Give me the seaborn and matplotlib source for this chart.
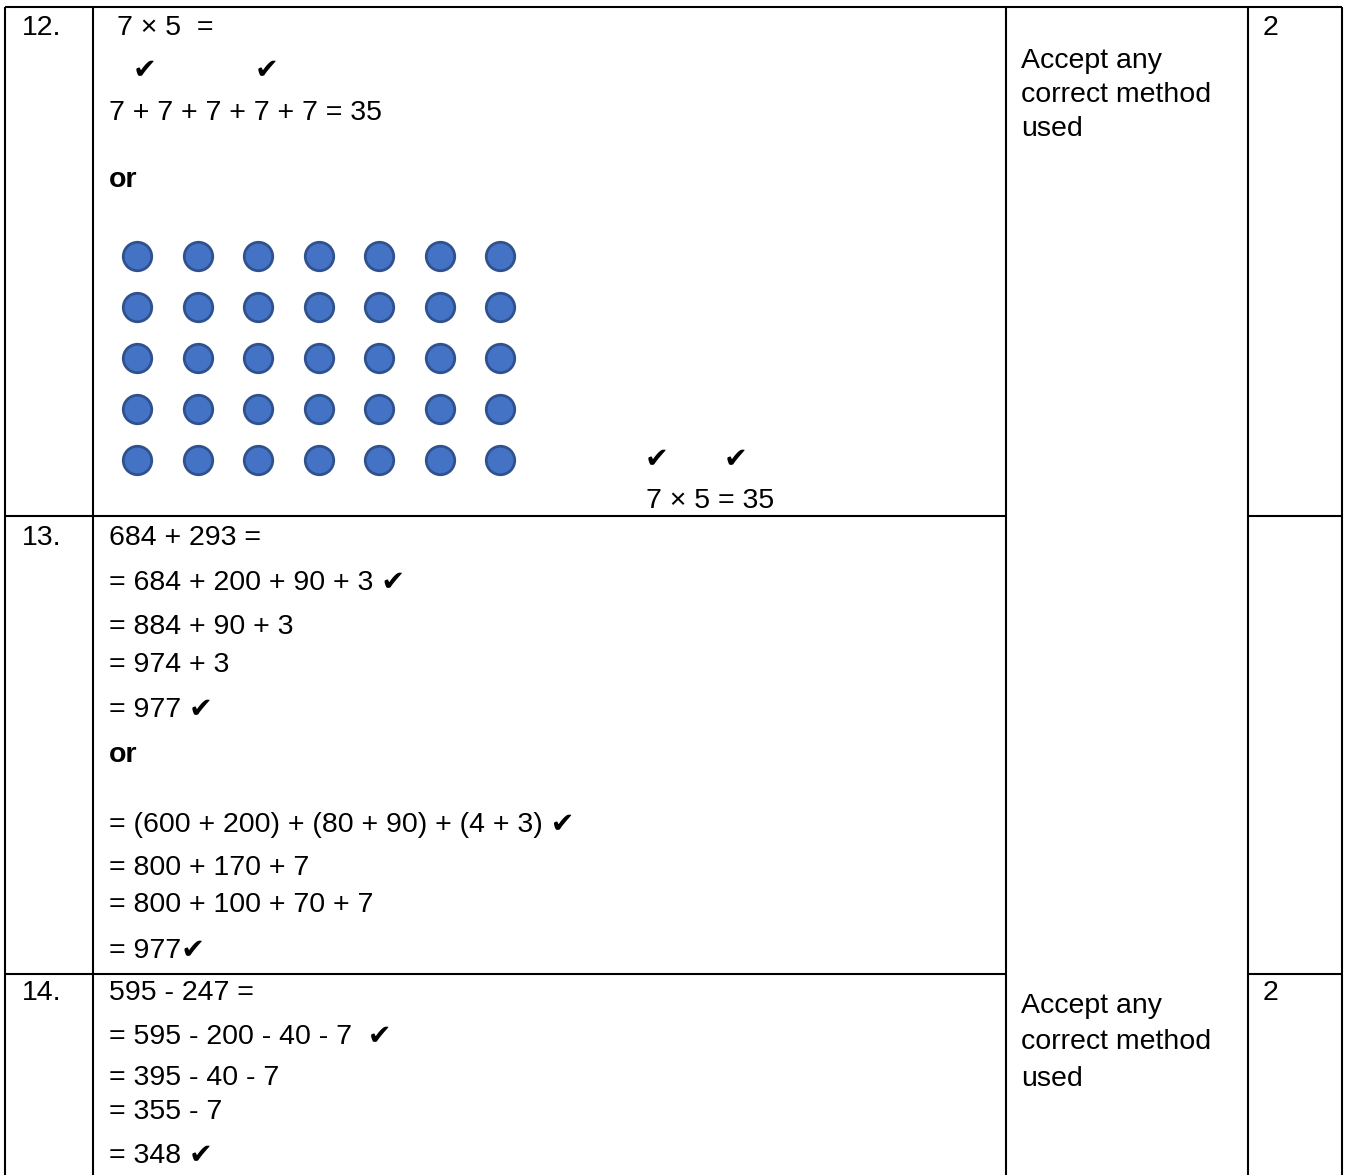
"""
Marking scheme table: questions 12-14 (multiplication / addition / subtraction)
"""
import itertools
import pandas as pd
import matplotlib
matplotlib.use("Agg")
import matplotlib.pyplot as plt
import seaborn as sns

sns.set_style("white")
plt.rcParams["font.family"] = ["Liberation Sans", "DejaVu Sans"]

W, H = 1349, 1175
FS = 20.5
CHECK = "\u2714"

# ---------- content ----------
question_numbers = ["12.", "13.", "14."]
q12_lines = ["7 \u00d7 5  =", "7 + 7 + 7 + 7 + 7 = 35"]
q12_tail = "7 \u00d7 5 = 35"
q13_lines = ["684 + 293 =", "= 684 + 200 + 90 + 3 " + CHECK, "= 884 + 90 + 3", "= 974 + 3",
             "= 977 " + CHECK, "= (600 + 200) + (80 + 90) + (4 + 3) " + CHECK,
             "= 800 + 170 + 7", "= 800 + 100 + 70 + 7", "= 977" + CHECK]
q14_lines = ["595 - 247 =", "= 595 - 200 - 40 - 7  " + CHECK, "= 395 - 40 - 7", "= 355 - 7",
             "= 348 " + CHECK]
guidance = ["Accept any", "correct method", "used"]
marks = ["2", "2"]

# dot array: 7 columns x 5 rows
dot_cols = [1, 2, 3, 4, 5, 6, 7]
dot_rows = [1, 2, 3, 4, 5]

# ---------- layout (pixels) ----------
col_x = [5, 93, 1006, 1248, 1342]
top_y = 7
row_sep = [516, 974]
q_base = [35, 545, 1000]
q12_base = [35, 120]
q12_x = [117, 109]
q12_checks = [(133, 78), (255, 78), (645, 467), (724, 467)]
or_base = [187, 762]
q13_base = [545, 590, 634, 672, 717, 832, 875, 912, 958]
q14_base = [1000, 1044, 1085, 1119, 1163]
guide_base = [[68, 102, 136], [1013, 1049, 1086]]
mark_base = [35, 1000]

fig = plt.figure(figsize=(W / 100, H / 100), dpi=100)
ax = fig.add_axes([0, 0, 1, 1])
ax.set_xlim(0, W)
ax.set_ylim(H, 0)
ax.axis("off")

lw = 1.5
ax.hlines(top_y, col_x[0], col_x[-1], color="black", lw=lw)
ax.vlines(col_x, top_y, H, color="black", lw=lw)
for y in row_sep:
    ax.hlines(y, col_x[0], col_x[2], color="black", lw=lw)
    ax.hlines(y, col_x[3], col_x[4], color="black", lw=lw)

txt = dict(fontsize=FS, va="baseline", ha="left", color="black")

for label, y in zip(question_numbers, q_base):
    ax.text(22, y, label, **txt)

# question 12
for s, x, y in zip(q12_lines, q12_x, q12_base):
    ax.text(x, y, s, **txt)
for x, y in q12_checks:
    ax.text(x, y, CHECK, **txt)
ax.text(646, 508, q12_tail, **txt)
for y in or_base:
    ax.text(109, y, "or", fontweight="bold", **txt)

# question 13 / 14
for s, y in zip(q13_lines, q13_base):
    ax.text(109, y, s, **txt)
for s, y in zip(q14_lines, q14_base):
    ax.text(109, y, s, **txt)

# guidance + marks columns
for ys in guide_base:
    for s, y in zip(guidance, ys):
        ax.text(1021, y, s, **txt)
for s, y in zip(marks, mark_base):
    ax.text(1263, y, s, **txt)

# ---------- dot array ----------
dots = pd.DataFrame(list(itertools.product(dot_cols, dot_rows)), columns=["col", "row"])
x0, dx = 137, 60.5
y0, dy = 256, 51
left = x0 - 0.5 * dx
top = y0 - 0.5 * dy
dax = fig.add_axes([left / W, 1 - (top + 5 * dy) / H, 7 * dx / W, 5 * dy / H])
sns.scatterplot(data=dots, x="col", y="row", ax=dax, s=420, color="#4472C4",
                edgecolor="#2F528F", linewidth=2, legend=False)
dax.set_xlim(0.5, 7.5)
dax.set_ylim(5.5, 0.5)
dax.axis("off")

plt.savefig("out.png", dpi=100)
plt.close()
